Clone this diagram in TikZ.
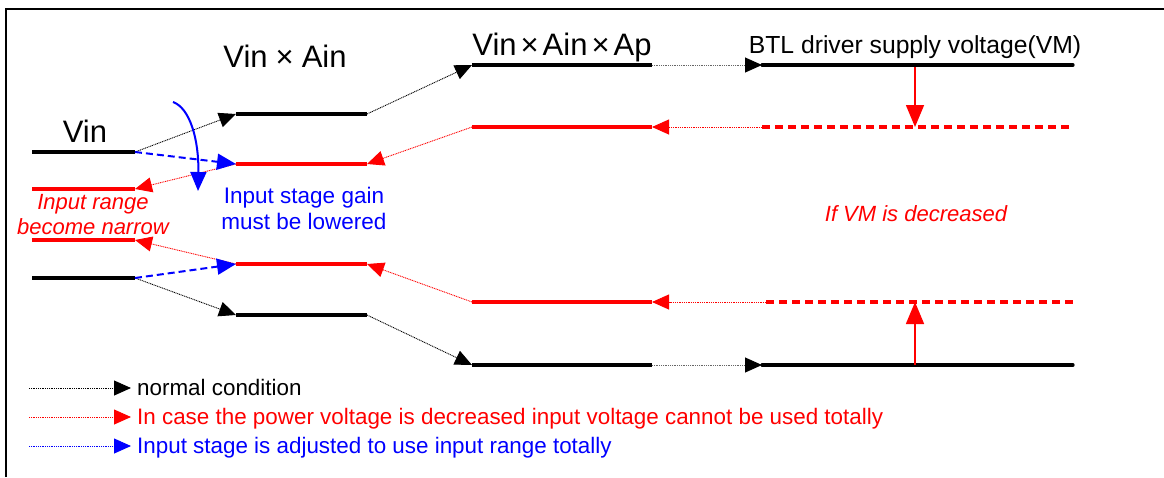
\documentclass[tikz,border=0pt]{standalone}
\usepackage{fontspec}
\setmainfont{Liberation Sans}
\usetikzlibrary{arrows.meta}
\begin{document}
\begin{tikzpicture}[x=1pt,y=-1pt,
  level/.style={line width=3.2pt},
  rlevel/.style={level,red},
  rdash/.style={level,red,dash pattern=on 8pt off 5pt},
  conn/.style={line width=0.9pt,dash pattern=on 1pt off 0.8pt,-{Triangle[length=17pt,width=15pt]}},
  bconn/.style={blue,line width=2pt,dash pattern=on 7pt off 4pt,-{Triangle[length=19pt,width=16pt]}},
  vmarrow/.style={red,line width=1.6pt,-{Triangle[length=22pt,width=18pt]}},
  big/.style={font=\fontsize{31}{34}\selectfont,anchor=base,inner sep=0pt},
  lbl/.style={font=\fontsize{22}{26}\selectfont,anchor=base,inner sep=0pt},
  leg/.style={font=\fontsize{22.4}{26}\selectfont,anchor=base west,inner sep=0pt}]
\useasboundingbox (0,0) rectangle (1164,477);
% frame
\draw[line width=2.5pt] (6,477) -- (6,9) -- (1164,9);
% column 1
\coordinate (a1) at (32,152);  \coordinate (a1e) at (135,152);
\coordinate (a2) at (32,189);  \coordinate (a2e) at (135,189);
\coordinate (a3) at (32,240);  \coordinate (a3e) at (135,240);
\coordinate (a4) at (32,278);  \coordinate (a4e) at (135,278);
% column 2
\coordinate (b1) at (236,114); \coordinate (b1e) at (367,114);
\coordinate (b2) at (236,164); \coordinate (b2e) at (367,164);
\coordinate (b3) at (236,264); \coordinate (b3e) at (367,264);
\coordinate (b4) at (236,315); \coordinate (b4e) at (367,315);
% column 3
\coordinate (c1) at (472,65);  \coordinate (c1e) at (652,65);
\coordinate (c2) at (472,127); \coordinate (c2e) at (652,127);
\coordinate (c3) at (472,302); \coordinate (c3e) at (652,302);
\coordinate (c4) at (472,365); \coordinate (c4e) at (652,365);
% column 4
\coordinate (d1) at (762,65);  \coordinate (d1e) at (1073,65);
\coordinate (d2) at (762,127); \coordinate (d2e) at (1073,127);
\coordinate (d3) at (766,302); \coordinate (d3e) at (1077,302);
\coordinate (d4) at (762,365); \coordinate (d4e) at (1073,365);
\coordinate (vmtop) at (915,67);  \coordinate (vmtopd) at (915,127);
\coordinate (vmbot) at (915,365); \coordinate (vmbotd) at (915,302);
% level lines
\draw[level] (a1) -- (a1e);
\draw[rlevel] (a2) -- (a2e);
\draw[rlevel] (a3) -- (a3e);
\draw[level] (a4) -- (a4e);
\draw[level] (b1) -- (b1e);
\draw[rlevel] (b2) -- (b2e);
\draw[rlevel] (b3) -- (b3e);
\draw[level] (b4) -- (b4e);
\draw[level] (c1) -- (c1e);
\draw[rlevel] (c2) -- (c2e);
\draw[rlevel] (c3) -- (c3e);
\draw[level] (c4) -- (c4e);
\draw[level,line cap=round] (d1) -- (d1e);
\draw[rdash] (d2) -- (d2e);
\draw[rdash] (d3) -- (d3e);
\draw[level,line cap=round] (d4) -- (d4e);
% normal connectors
\draw[conn,black] (a1e) -- (b1);
\draw[conn,black] (b1e) -- (c1);
\draw[conn,black!60,-{Triangle[length=17pt,width=15pt,black]}] (c1e) -- (d1);
\draw[conn,black] (a4e) -- (b4);
\draw[conn,black] (b4e) -- (c4);
\draw[conn,black!60,-{Triangle[length=17pt,width=15pt,black]}] (c4e) -- (d4);
% red connectors
\draw[conn,red] (d2) -- (c2e);
\draw[conn,red] (c2) -- (b2e);
\draw[conn,red] (b2) -- (a2e);
\draw[conn,red] (d3) -- (c3e);
\draw[conn,red] (c3) -- (b3e);
\draw[conn,red] (b3) -- (a3e);
% blue connectors
\draw[bconn] (a1e) -- (b2);
\draw[bconn] (a4e) -- (b3);
\coordinate (cs) at (173,102); \coordinate (ce) at (198,191);
\draw[blue,line width=2pt,-{Triangle[length=19pt,width=16pt]}] (cs) .. controls (190,108) and (199,140) .. (ce);
% VM arrows
\draw[vmarrow] (vmtop) -- (vmtopd);
\draw[vmarrow] (vmbot) -- (vmbotd);
% labels
\node[big] (tvin) at (85,142) {Vin};
\node[big] (tva) at (285,67) {Vin\hspace{8pt}×\hspace{8pt}Ain};
\node[big] (tvaa) at (562,55) {Vin\hspace{4pt}×\hspace{4pt}Ain\hspace{4pt}×\hspace{4pt}Ap};
\node[lbl,font=\fontsize{24.7}{28}\selectfont] (tbtl) at (915,53) {BTL driver supply voltage(VM)};
\node[lbl,blue,font=\fontsize{22.5}{26}\selectfont] (tgain1) at (304,203) {Input stage gain};
\node[lbl,blue,font=\fontsize{22.5}{26}\selectfont] (tgain2) at (304,229) {must be lowered};
\node[lbl,red,font=\fontsize{22}{26}\selectfont\itshape] (tnar1) at (93,209) {Input range};
\node[lbl,red,font=\fontsize{22}{26}\selectfont\itshape] (tnar2) at (93,234) {become narrow};
\node[lbl,red,font=\fontsize{22}{26}\selectfont\itshape] (tvm) at (916,221) {If VM is decreased};
% legend
\coordinate (l1s) at (29,388); \coordinate (l1e) at (131,388);
\coordinate (l2s) at (29,417); \coordinate (l2e) at (131,417);
\coordinate (l3s) at (29,446); \coordinate (l3e) at (131,446);
\draw[conn,black] (l1s) -- (l1e);
\draw[conn,red] (l2s) -- (l2e);
\draw[conn,blue] (l3s) -- (l3e);
\node[leg] (t1) at (137,395) {normal condition};
\node[leg,red] (t2) at (137,424) {In case the power voltage is decreased input voltage cannot be used totally};
\node[leg,blue] (t3) at (137,453) {Input stage is adjusted to use input range totally};
\end{tikzpicture}
\end{document}
